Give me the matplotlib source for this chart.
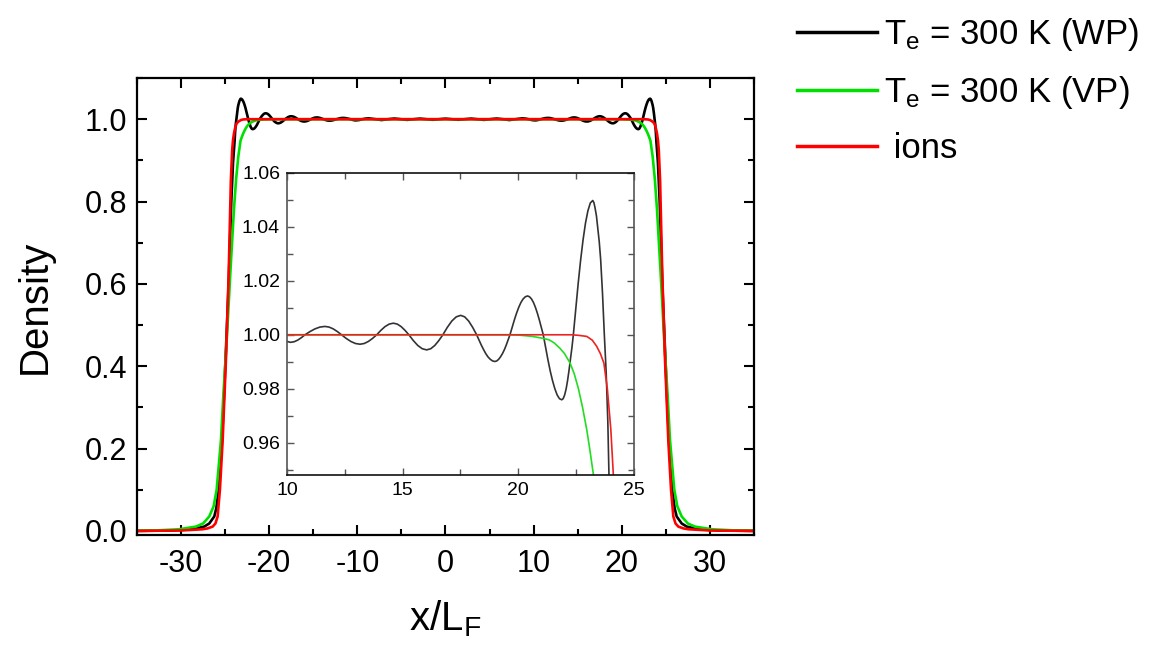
import numpy as np
import matplotlib
matplotlib.use("Agg")
import matplotlib.pyplot as plt
from matplotlib.ticker import MultipleLocator

plt.rcParams['font.family'] = ['Liberation Sans', 'DejaVu Sans']
plt.rcParams['mathtext.fontset'] = 'custom'
plt.rcParams['mathtext.rm'] = 'Liberation Sans'
plt.rcParams['mathtext.it'] = 'Liberation Sans:italic'

# ---- data (right half of the symmetric profiles) ----
black_x_half = [0.0, 0.725, 1.45, 2.175, 2.9, 3.625, 4.35, 5.075, 5.8, 6.525, 7.25, 7.975, 8.7,
                9.0625, 9.425, 9.7875, 10.15,
                10.3075, 10.465, 10.6225, 10.78,
                10.995, 11.21, 11.425, 11.64,
                11.82, 12.0, 12.18, 12.36,
                12.56, 12.76, 12.96, 13.16,
                13.34, 13.52, 13.70, 13.88,
                14.06, 14.24, 14.42, 14.60,
                14.7675, 14.935, 15.1025, 15.27,
                15.4625, 15.655, 15.8475, 16.04,
                16.215, 16.39, 16.565, 16.74,
                16.9325, 17.125, 17.3175, 17.51,
                17.6825, 17.855, 18.0275, 18.2,
                18.30, 18.40, 18.50, 18.595, 18.69, 18.79, 18.89, 18.99,
                19.07, 19.15, 19.23, 19.315, 19.40, 19.48, 19.56, 19.64,
                19.735, 19.83, 19.925, 20.02, 20.115, 20.21, 20.305, 20.40,
                20.485, 20.57, 20.655, 20.74, 20.825, 20.91, 20.995, 21.08,
                21.18, 21.28, 21.38, 21.48, 21.58, 21.68, 21.78, 21.88,
                21.94, 22.005, 22.07, 22.13, 22.19, 22.255, 22.32, 22.38,
                22.485, 22.59, 22.695, 22.80, 22.905, 23.01, 23.115, 23.22,
                23.27, 23.32, 23.38, 23.43, 23.50, 23.56, 23.64, 23.72,
                23.80, 23.87, 23.92, 24.0, 24.1, 24.3, 24.6, 24.85, 25.1, 25.4, 25.73, 26.0,
                26.23, 26.8, 27.37, 28.7, 31.0, 35.0]
black_y_half = [1.0014, 1.0, 0.9986, 1.0, 1.0015, 1.0, 0.9984, 1.0, 1.0017, 1.0, 0.9980, 1.0, 1.0022,
                1.00156, 1.0, 0.99802, 0.9972,
                0.99741, 0.99802, 0.99893, 1.0,
                1.00119, 1.00219, 1.00286, 1.0031,
                1.00286, 1.00219, 1.00119, 1.0,
                0.99866, 0.99753, 0.99677, 0.9965,
                0.99677, 0.99753, 0.99866, 1.0,
                1.00165, 1.00304, 1.00397, 1.0043,
                1.00397, 1.00304, 1.00165, 1.0,
                0.99786, 0.99604, 0.99483, 0.9944,
                0.99483, 0.99604, 0.99786, 1.0,
                1.00276, 1.00509, 1.00665, 1.0072,
                1.00665, 1.00509, 1.00276, 1.0,
                0.9981, 0.9962, 0.9945, 0.9930, 0.9918, 0.9909, 0.9903, 0.9901,
                0.9903, 0.9909, 0.9918, 0.9930, 0.9945, 0.9962, 0.9981, 1.0,
                1.0028, 1.0055, 1.0080, 1.0102, 1.0120, 1.0133, 1.0141, 1.0144,
                1.0141, 1.0133, 1.0120, 1.0102, 1.0080, 1.0055, 1.0028, 1.0,
                0.9953, 0.9908, 0.9866, 0.9830, 0.9800, 0.9777, 0.9763, 0.9759,
                0.9763, 0.9777, 0.9800, 0.9830, 0.9866, 0.9908, 0.9953, 1.0,
                1.0097, 1.0191, 1.0277, 1.0352, 1.0414, 1.0460, 1.0489, 1.0498,
                1.0490, 1.0470, 1.0440, 1.0400, 1.0345, 1.0280, 1.0155, 1.0,
                0.986, 0.968, 0.948, 0.925, 0.895, 0.80, 0.60, 0.47, 0.34, 0.20, 0.10, 0.055,
                0.035, 0.018, 0.0105, 0.004, 0.001, 0.0]

green_x_half = [0.0, 10.0, 18.0, 19.5, 20.0, 20.6, 21.0, 21.33, 21.55, 21.8, 22.0, 22.24, 22.42,
                22.6, 22.78, 22.96, 23.1, 23.25, 23.5, 23.75, 24.0, 24.4, 24.8, 25.2, 25.47,
                25.96, 26.3, 26.8, 27.5, 28.3, 30.2, 32.5, 35.0]
green_y_half = [1.0, 1.0, 1.0, 1.0, 0.9999, 0.9994, 0.9988, 0.99815, 0.9970, 0.9950, 0.9930, 0.9895, 0.9855,
                0.9800, 0.9730, 0.9648, 0.957, 0.948, 0.91, 0.855, 0.78, 0.63, 0.47, 0.33, 0.221,
                0.10, 0.06, 0.035, 0.018, 0.0105, 0.004, 0.0015, 0.0005]

red_x_half = [0.0, 10.0, 20.0, 22.3, 22.6, 22.96, 23.2, 23.39, 23.55, 23.7, 23.85, 24.0, 24.11,
              24.2, 24.35, 24.6, 24.9, 25.28, 25.59, 25.85, 26.1, 26.41, 27.0, 27.55, 30.0, 35.0]
red_y_half = [1.0, 1.0, 1.0, 1.0, 0.9998, 0.9994, 0.998, 0.9957, 0.993, 0.9895, 0.980, 0.965, 0.948,
              0.925, 0.85, 0.62, 0.42, 0.22, 0.10, 0.035, 0.018, 0.0105, 0.006, 0.004, 0.001, 0.0]

labels = [r'T$\mathregular{_e}$ = 300 K (WP)', r'T$\mathregular{_e}$ = 300 K (VP)', ' ions']
colors = ['#000000', '#00e000', '#ff0000']
inset_colors = ['#333333', '#22dd22', '#ee2222']


def symmetric(xh, yh):
    xh = np.asarray(xh); yh = np.asarray(yh)
    return np.concatenate([-xh[::-1][:-1], xh]), np.concatenate([yh[::-1][:-1], yh])


series = [symmetric(black_x_half, black_y_half),
          symmetric(green_x_half, green_y_half),
          symmetric(red_x_half, red_y_half)]

fig = plt.figure(figsize=(11.52, 6.58), dpi=100)
ax = fig.add_axes([0.1189, 0.1869, 0.5356, 0.6945])

handles = []
for (x, y), c, lab in zip(series, colors, labels):
    h, = ax.plot(x, y, color=c, lw=1.9, label=lab)
    handles.append(h)

ax.set_xlim(-35, 35)
ax.set_ylim(-0.01, 1.1)
ax.xaxis.set_major_locator(MultipleLocator(10))
ax.xaxis.set_minor_locator(MultipleLocator(5))
ax.yaxis.set_major_locator(MultipleLocator(0.2))
ax.yaxis.set_minor_locator(MultipleLocator(0.1))
ax.xaxis.set_major_formatter(plt.FuncFormatter(lambda v, p: f'{v:.0f}'))
ax.yaxis.set_major_formatter(plt.FuncFormatter(lambda v, p: f'{v:.1f}'))
ax.tick_params(which='both', direction='in', top=True, right=True, width=1.5)
ax.tick_params(which='major', length=7, labelsize=22)
ax.tick_params(axis='y', which='major', pad=7)
ax.tick_params(axis='x', which='major', pad=10)
ax.tick_params(which='minor', length=4)
for s in ax.spines.values():
    s.set_linewidth(1.6)
ax.set_xlabel(r'x/L$\mathregular{_F}$', fontsize=29, labelpad=14)
ax.set_ylabel('Density', fontsize=29, labelpad=22)

leg = fig.legend(handles=handles, labels=labels, loc='upper left',
                 bbox_to_anchor=(0.665, 1.023), frameon=False, fontsize=25,
                 handlelength=2.3, handletextpad=0.2, labelspacing=0.6)
for l in leg.get_lines():
    l.set_linewidth(2.5)

# ---- inset ----
axi = fig.add_axes([0.2491, 0.2781, 0.3012, 0.4590])
for (x, y), c in zip(series, inset_colors):
    axi.plot(x, y, color=c, lw=1.2)
axi.set_xlim(10, 25)
axi.set_ylim(0.948, 1.06)
axi.xaxis.set_major_locator(MultipleLocator(5))
axi.xaxis.set_minor_locator(MultipleLocator(2.5))
axi.yaxis.set_major_locator(MultipleLocator(0.02))
axi.yaxis.set_minor_locator(MultipleLocator(0.01))
axi.xaxis.set_major_formatter(plt.FuncFormatter(lambda v, p: f'{v:.0f}'))
axi.yaxis.set_major_formatter(plt.FuncFormatter(lambda v, p: f'{v:.2f}'))
axi.tick_params(which='both', direction='in', top=True, right=True, width=1.0, color='#555555')
axi.tick_params(which='major', length=5, labelsize=14, pad=5)
axi.tick_params(which='minor', length=4)
for s in axi.spines.values():
    s.set_linewidth(1.2)
    s.set_color('#555555')
axi.spines['top'].set_color('#111111')
axi.spines['bottom'].set_color('#111111')

fig.savefig('out.png', dpi=100)
